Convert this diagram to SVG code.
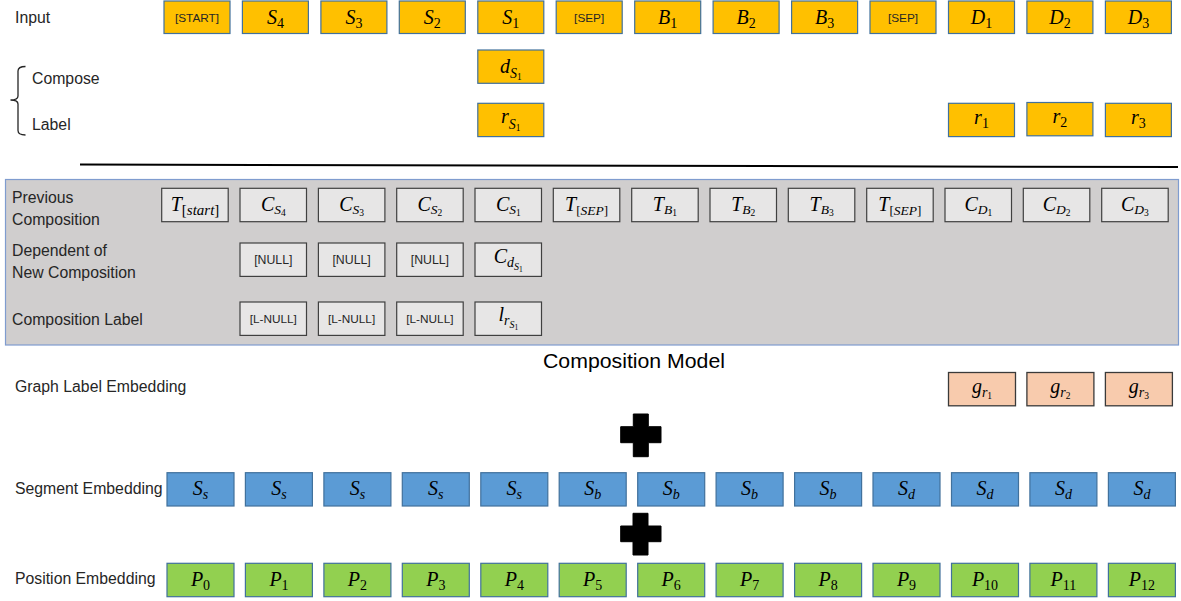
<svg xmlns="http://www.w3.org/2000/svg" width="1181" height="601" viewBox="0 0 1181 601">
<style>
.lbl{font-family:"Liberation Sans",Arial,sans-serif;font-size:15.8px;fill:#262626}
.tok{font-family:"Liberation Sans",Arial,sans-serif;font-size:11.8px;fill:#262626;text-anchor:middle}
.tok12{font-family:"Liberation Sans",Arial,sans-serif;font-size:12.3px;fill:#262626;text-anchor:middle}
.m{font-family:"Liberation Serif","DejaVu Serif",serif;font-style:italic;font-size:20px;fill:#000;text-anchor:middle}
.d{font-size:14px;font-style:normal}
.i{font-size:14px;font-style:italic}
.i12{font-size:13.5px;font-style:italic}
.dd{font-size:9.5px;font-style:normal}
.i9{font-size:10px;font-style:italic}
.d6{font-size:7.5px;font-style:normal}
.b14{font-size:15px;font-style:normal}
.i14{font-size:15px;font-style:italic}
.b12{font-size:13px;font-style:normal}
.in{fill:#ffc000;stroke:#41719c;stroke-width:1.2}
.gr{fill:#e7e6e6;stroke:#404040;stroke-width:1.2}
.gl{fill:#f8cbad;stroke:#3a3a3a;stroke-width:1.3}
.sg{fill:#5b9bd5;stroke:#41719c;stroke-width:1.2}
.ps{fill:#92d050;stroke:#41719c;stroke-width:1.2}
</style>

<!-- Left labels -->
<g id="labels">
<text class="lbl" x="15" y="22.5">Input</text>
<text class="lbl" x="32" y="84">Compose</text>
<text class="lbl" x="32" y="130">Label</text>
<text class="lbl" x="15" y="391.5">Graph Label Embedding</text>
<text class="lbl" x="15" y="493.5">Segment Embedding</text>
<text class="lbl" x="15" y="583.5">Position Embedding</text>
</g>
<path id="brace" d="M25.5,66.5 Q18,66.5 18,71 L18,96 Q18,100 10.5,100 Q18,100 18,104 L18,130.5 Q18,135 25.5,135" fill="none" stroke="#262626" stroke-width="1.3"/>

<!-- Input row -->
<g id="input-row">
<g id="in0"><rect class="in" x="164" y="1" width="66" height="32.5"/><text class="tok" x="197" y="21.5">[START]</text></g>
<g id="in1"><rect class="in" x="242.4" y="1" width="66" height="32.5"/><text class="m" x="275.4" y="24">S<tspan class="d" dy="3.5">4</tspan></text></g>
<g id="in2"><rect class="in" x="320.9" y="1" width="66" height="32.5"/><text class="m" x="353.9" y="24">S<tspan class="d" dy="3.5">3</tspan></text></g>
<g id="in3"><rect class="in" x="399.3" y="1" width="66" height="32.5"/><text class="m" x="432.3" y="24">S<tspan class="d" dy="3.5">2</tspan></text></g>
<g id="in4"><rect class="in" x="477.8" y="1" width="66" height="32.5"/><text class="m" x="510.8" y="24">S<tspan class="d" dy="3.5">1</tspan></text></g>
<g id="in5"><rect class="in" x="556.2" y="1" width="66" height="32.5"/><text class="tok" x="589.2" y="21.5">[SEP]</text></g>
<g id="in6"><rect class="in" x="634.7" y="1" width="66" height="32.5"/><text class="m" x="667.7" y="24">B<tspan class="d" dy="3.5">1</tspan></text></g>
<g id="in7"><rect class="in" x="713.1" y="1" width="66" height="32.5"/><text class="m" x="746.1" y="24">B<tspan class="d" dy="3.5">2</tspan></text></g>
<g id="in8"><rect class="in" x="791.6" y="1" width="66" height="32.5"/><text class="m" x="824.6" y="24">B<tspan class="d" dy="3.5">3</tspan></text></g>
<g id="in9"><rect class="in" x="870" y="1" width="66" height="32.5"/><text class="tok" x="903" y="21.5">[SEP]</text></g>
<g id="in10"><rect class="in" x="948.5" y="1" width="66" height="32.5"/><text class="m" x="981.5" y="24">D<tspan class="d" dy="3.5">1</tspan></text></g>
<g id="in11"><rect class="in" x="1026.9" y="1" width="66" height="32.5"/><text class="m" x="1059.9" y="24">D<tspan class="d" dy="3.5">2</tspan></text></g>
<g id="in12"><rect class="in" x="1105.4" y="1" width="66" height="32.5"/><text class="m" x="1138.4" y="24">D<tspan class="d" dy="3.5">3</tspan></text></g>
</g>

<g id="compose-row">
<g id="ds1"><rect class="in" x="477.8" y="50" width="66" height="33.3"/><text class="m" x="510.8" y="73">d<tspan class="i" dy="5">S</tspan><tspan class="dd" dy="2">1</tspan></text></g>
</g>
<g id="label-row">
<g id="rs1"><rect class="in" x="477.8" y="103.3" width="66" height="33.3"/><text class="m" x="510.8" y="123">r<tspan class="i" dy="6">S</tspan><tspan class="dd" dy="2">1</tspan></text></g>
<g id="r1"><rect class="in" x="948.5" y="103.3" width="66" height="33.3"/><text class="m" x="981.5" y="124">r<tspan class="d" dy="4">1</tspan></text></g>
<g id="r2"><rect class="in" x="1026.9" y="102.5" width="66" height="33.3"/><text class="m" x="1059.9" y="123">r<tspan class="d" dy="4">2</tspan></text></g>
<g id="r3"><rect class="in" x="1105.4" y="103.3" width="66" height="33.3"/><text class="m" x="1138.4" y="124">r<tspan class="d" dy="4">3</tspan></text></g>
</g>

<line id="divider" x1="80" y1="164.6" x2="1178" y2="167" stroke="#000" stroke-width="2"/>

<!-- Grey panel -->
<g id="panel">
<rect x="5.5" y="179.5" width="1173" height="165.5" fill="#d0cece" stroke="#7f9ccf" stroke-width="1.2"/>
<text class="lbl" x="12" y="203">Previous</text>
<text class="lbl" x="12" y="224.5">Composition</text>
<text class="lbl" x="12" y="255.5">Dependent of</text>
<text class="lbl" x="12" y="277.5">New Composition</text>
<text class="lbl" x="12" y="325">Composition Label</text>
</g>

<g id="prev-row">
<g id="p0"><rect class="gr" x="161.7" y="188.3" width="66.5" height="33.4"/><text class="m" x="195" y="211">T<tspan class="b14" dy="3.5">[</tspan><tspan class="i14">start</tspan><tspan class="b14">]</tspan></text></g>
<g id="p1"><rect class="gr" x="240" y="188.3" width="66.5" height="33.4"/><text class="m" x="273.3" y="210.5">C<tspan class="i12" dy="3.5">S</tspan><tspan class="dd" dy="2">4</tspan></text></g>
<g id="p2"><rect class="gr" x="318.4" y="188.3" width="66.5" height="33.4"/><text class="m" x="351.6" y="210.5">C<tspan class="i12" dy="3.5">S</tspan><tspan class="dd" dy="2">3</tspan></text></g>
<g id="p3"><rect class="gr" x="396.7" y="188.3" width="66.5" height="33.4"/><text class="m" x="429.9" y="210.5">C<tspan class="i12" dy="3.5">S</tspan><tspan class="dd" dy="2">2</tspan></text></g>
<g id="p4"><rect class="gr" x="475" y="188.3" width="66.5" height="33.4"/><text class="m" x="508.3" y="210.5">C<tspan class="i12" dy="3.5">S</tspan><tspan class="dd" dy="2">1</tspan></text></g>
<g id="p5"><rect class="gr" x="553.3" y="188.3" width="66.5" height="33.4"/><text class="m" x="586.6" y="211">T<tspan class="b12" dy="3.5">[</tspan><tspan class="i12">SEP</tspan><tspan class="b12">]</tspan></text></g>
<g id="p6"><rect class="gr" x="631.7" y="188.3" width="66.5" height="33.4"/><text class="m" x="664.9" y="210.5">T<tspan class="i12" dy="3.5">B</tspan><tspan class="dd" dy="2">1</tspan></text></g>
<g id="p7"><rect class="gr" x="710" y="188.3" width="66.5" height="33.4"/><text class="m" x="743.3" y="210.5">T<tspan class="i12" dy="3.5">B</tspan><tspan class="dd" dy="2">2</tspan></text></g>
<g id="p8"><rect class="gr" x="788.3" y="188.3" width="66.5" height="33.4"/><text class="m" x="821.6" y="210.5">T<tspan class="i12" dy="3.5">B</tspan><tspan class="dd" dy="2">3</tspan></text></g>
<g id="p9"><rect class="gr" x="866.7" y="188.3" width="66.5" height="33.4"/><text class="m" x="899.9" y="211">T<tspan class="b12" dy="3.5">[</tspan><tspan class="i12">SEP</tspan><tspan class="b12">]</tspan></text></g>
<g id="p10"><rect class="gr" x="945" y="188.3" width="66.5" height="33.4"/><text class="m" x="978.3" y="210.5">C<tspan class="i12" dy="3.5">D</tspan><tspan class="dd" dy="2">1</tspan></text></g>
<g id="p11"><rect class="gr" x="1023.3" y="188.3" width="66.5" height="33.4"/><text class="m" x="1056.6" y="210.5">C<tspan class="i12" dy="3.5">D</tspan><tspan class="dd" dy="2">2</tspan></text></g>
<g id="p12"><rect class="gr" x="1101.7" y="188.3" width="66.5" height="33.4"/><text class="m" x="1134.9" y="210.5">C<tspan class="i12" dy="3.5">D</tspan><tspan class="dd" dy="2">3</tspan></text></g>
</g>

<g id="dep-row">
<g id="n1"><rect class="gr" x="240" y="243" width="66.5" height="33.4"/><text class="tok12" x="273.3" y="264">[NULL]</text></g>
<g id="n2"><rect class="gr" x="318.4" y="243" width="66.5" height="33.4"/><text class="tok12" x="351.6" y="264">[NULL]</text></g>
<g id="n3"><rect class="gr" x="396.7" y="243" width="66.5" height="33.4"/><text class="tok12" x="429.9" y="264">[NULL]</text></g>
<g id="cds1"><rect class="gr" x="475" y="243" width="66.5" height="33.4"/><text class="m" x="508.3" y="263">C<tspan class="i" dy="4">d</tspan><tspan class="i9" dy="3">S</tspan><tspan class="d6" dy="1.5">1</tspan></text></g>
</g>

<g id="complabel-row">
<g id="ln1"><rect class="gr" x="240" y="302" width="66.5" height="33.4"/><text class="tok" x="273.3" y="323">[L-NULL]</text></g>
<g id="ln2"><rect class="gr" x="318.4" y="302" width="66.5" height="33.4"/><text class="tok" x="351.6" y="323">[L-NULL]</text></g>
<g id="ln3"><rect class="gr" x="396.7" y="302" width="66.5" height="33.4"/><text class="tok" x="429.9" y="323">[L-NULL]</text></g>
<g id="lrs1"><rect class="gr" x="475" y="302" width="66.5" height="33.4"/><text class="m" x="508.3" y="321">l<tspan class="i" dy="4">r</tspan><tspan class="i9" dy="3">S</tspan><tspan class="d6" dy="1.5">1</tspan></text></g>
</g>

<text id="composition-model" x="634" y="368" font-family="Liberation Sans, Arial, sans-serif" font-size="20px" fill="#000" text-anchor="middle" textLength="182" lengthAdjust="spacingAndGlyphs">Composition Model</text>

<g id="graph-row">
<g id="g1"><rect class="gl" x="948.5" y="372.5" width="67" height="33.3"/><text class="m" x="982" y="393">g<tspan class="i" dy="4">r</tspan><tspan class="dd" dy="2">1</tspan></text></g>
<g id="g2"><rect class="gl" x="1026.9" y="372.5" width="67" height="33.3"/><text class="m" x="1060.4" y="393">g<tspan class="i" dy="4">r</tspan><tspan class="dd" dy="2">2</tspan></text></g>
<g id="g3"><rect class="gl" x="1105.4" y="372.5" width="67" height="33.3"/><text class="m" x="1138.9" y="393">g<tspan class="i" dy="4">r</tspan><tspan class="dd" dy="2">3</tspan></text></g>
</g>

<g id="plus-signs" fill="#000" stroke="#000" stroke-width="1" stroke-linejoin="round">
<path d="M633.3,414 H648.3 V426.7 H661 V442.7 H648.3 V456.7 H633.3 V442.7 H620.7 V426.7 H633.3 Z"/>
<path d="M633,513.3 H648 V526 H661 V541.7 H648 V555 H633 V541.7 H620.7 V526 H633 Z"/>
</g>

<g id="segment-row">
<g id="s0"><rect class="sg" x="167" y="472.7" width="67" height="33.3"/><text class="m" x="200.5" y="495">S<tspan class="i" dy="4">s</tspan></text></g>
<g id="s1"><rect class="sg" x="245.4" y="472.7" width="67" height="33.3"/><text class="m" x="279" y="495">S<tspan class="i" dy="4">s</tspan></text></g>
<g id="s2"><rect class="sg" x="323.9" y="472.7" width="67" height="33.3"/><text class="m" x="357.4" y="495">S<tspan class="i" dy="4">s</tspan></text></g>
<g id="s3"><rect class="sg" x="402.3" y="472.7" width="67" height="33.3"/><text class="m" x="435.8" y="495">S<tspan class="i" dy="4">s</tspan></text></g>
<g id="s4"><rect class="sg" x="480.8" y="472.7" width="67" height="33.3"/><text class="m" x="514.3" y="495">S<tspan class="i" dy="4">s</tspan></text></g>
<g id="s5"><rect class="sg" x="559.2" y="472.7" width="67" height="33.3"/><text class="m" x="592.7" y="495">S<tspan class="i" dy="4">b</tspan></text></g>
<g id="s6"><rect class="sg" x="637.7" y="472.7" width="67" height="33.3"/><text class="m" x="671.2" y="495">S<tspan class="i" dy="4">b</tspan></text></g>
<g id="s7"><rect class="sg" x="716.1" y="472.7" width="67" height="33.3"/><text class="m" x="749.6" y="495">S<tspan class="i" dy="4">b</tspan></text></g>
<g id="s8"><rect class="sg" x="794.6" y="472.7" width="67" height="33.3"/><text class="m" x="828.1" y="495">S<tspan class="i" dy="4">b</tspan></text></g>
<g id="s9"><rect class="sg" x="873" y="472.7" width="67" height="33.3"/><text class="m" x="906.5" y="495">S<tspan class="i" dy="4">d</tspan></text></g>
<g id="s10"><rect class="sg" x="951.5" y="472.7" width="67" height="33.3"/><text class="m" x="985" y="495">S<tspan class="i" dy="4">d</tspan></text></g>
<g id="s11"><rect class="sg" x="1029.9" y="472.7" width="67" height="33.3"/><text class="m" x="1063.4" y="495">S<tspan class="i" dy="4">d</tspan></text></g>
<g id="s12"><rect class="sg" x="1108.4" y="472.7" width="67" height="33.3"/><text class="m" x="1141.9" y="495">S<tspan class="i" dy="4">d</tspan></text></g>
</g>

<g id="position-row">
<g id="q0"><rect class="ps" x="167" y="563.3" width="67" height="33.4"/><text class="m" x="200.5" y="586">P<tspan class="d" dy="4">0</tspan></text></g>
<g id="q1"><rect class="ps" x="245.4" y="563.3" width="67" height="33.4"/><text class="m" x="279" y="586">P<tspan class="d" dy="4">1</tspan></text></g>
<g id="q2"><rect class="ps" x="323.9" y="563.3" width="67" height="33.4"/><text class="m" x="357.4" y="586">P<tspan class="d" dy="4">2</tspan></text></g>
<g id="q3"><rect class="ps" x="402.3" y="563.3" width="67" height="33.4"/><text class="m" x="435.8" y="586">P<tspan class="d" dy="4">3</tspan></text></g>
<g id="q4"><rect class="ps" x="480.8" y="563.3" width="67" height="33.4"/><text class="m" x="514.3" y="586">P<tspan class="d" dy="4">4</tspan></text></g>
<g id="q5"><rect class="ps" x="559.2" y="563.3" width="67" height="33.4"/><text class="m" x="592.7" y="586">P<tspan class="d" dy="4">5</tspan></text></g>
<g id="q6"><rect class="ps" x="637.7" y="563.3" width="67" height="33.4"/><text class="m" x="671.2" y="586">P<tspan class="d" dy="4">6</tspan></text></g>
<g id="q7"><rect class="ps" x="716.1" y="563.3" width="67" height="33.4"/><text class="m" x="749.6" y="586">P<tspan class="d" dy="4">7</tspan></text></g>
<g id="q8"><rect class="ps" x="794.6" y="563.3" width="67" height="33.4"/><text class="m" x="828.1" y="586">P<tspan class="d" dy="4">8</tspan></text></g>
<g id="q9"><rect class="ps" x="873" y="563.3" width="67" height="33.4"/><text class="m" x="906.5" y="586">P<tspan class="d" dy="4">9</tspan></text></g>
<g id="q10"><rect class="ps" x="951.5" y="563.3" width="67" height="33.4"/><text class="m" x="985" y="586">P<tspan class="d" dy="4">10</tspan></text></g>
<g id="q11"><rect class="ps" x="1029.9" y="563.3" width="67" height="33.4"/><text class="m" x="1063.4" y="586">P<tspan class="d" dy="4">11</tspan></text></g>
<g id="q12"><rect class="ps" x="1108.4" y="563.3" width="67" height="33.4"/><text class="m" x="1141.9" y="586">P<tspan class="d" dy="4">12</tspan></text></g>
</g>

<g id="connectors"></g>
</svg>
